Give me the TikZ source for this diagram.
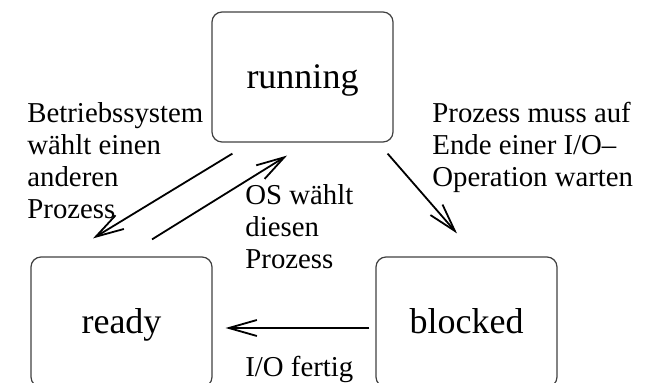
\documentclass[tikz,border=0pt]{standalone}
\usepackage{fontspec}
\setmainfont{Liberation Serif}
\usepackage{tikz}
\usetikzlibrary{arrows.meta, calc}

\begin{document}
\begin{tikzpicture}[x=0.5pt, y=0.5pt, >={Straight Barb[length=14pt, width=8pt]}]
				\useasboundingbox (0,0) rectangle (648,382);
				\begin{scope}[every node/.style={rectangle,rounded corners=5pt,draw=black!75,line width=0.6pt,minimum width=90.5pt,minimum height=65pt,text height=14pt,text depth=3pt,font=\fontsize{18}{20}\selectfont}]
					\node (running) at (302.5,305) {running};
					\node (ready) at (121.5,60) {ready};
					\node (blocked) at (466.5,60) {blocked};
				\end{scope}
				\begin{scope}[every node/.style={anchor=north west,inner sep=0pt,align=left,font=\fontsize{14.4}{16}\selectfont}]
					\node (lbl_os_other) at (27,280) {Betriebssystem\\wählt einen\\anderen\\Prozess};
					\node (lbl_os_this) at (245,198) {OS wählt\\diesen\\Prozess};
					\node (lbl_io_wait) at (432,280) {Prozess muss auf\\Ende einer I/O--\\Operation warten};
					\node (lbl_io_done) at (245,26) {I/O fertig};
				\end{scope}
				\begin{scope}[line width=0.9pt]
					\path [->] ($(running.south west)+(21,-11)$) edge node {} ($(ready.north)+(-28.5,18)$);
					\path [->] ($(ready.north)+(30.5,17)$) edge node {} ($(running.south)+(-15.5,-13)$);
					\path [->] ($(running.south east)+(-6,-11)$) edge node {} ($(blocked.north)+(-9.5,23)$);
					\path [->] ($(blocked.west)+(-6,-6)$) edge node {} ($(ready.east)+(13,-6)$);
				\end{scope}
			\end{tikzpicture}
\end{document}
